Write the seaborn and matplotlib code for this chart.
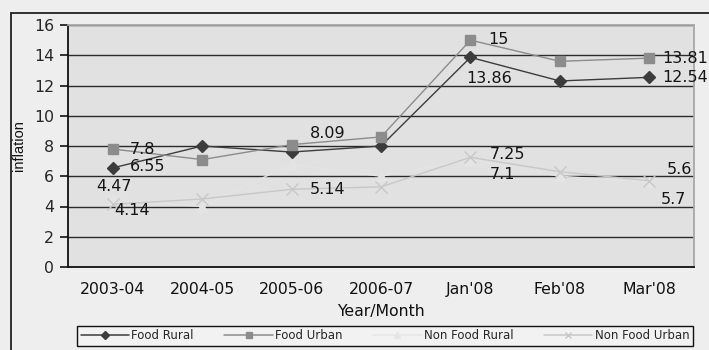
import matplotlib
matplotlib.use("Agg")
import matplotlib.pyplot as plt
from matplotlib.lines import Line2D
import numpy as np
import pandas as pd
import seaborn as sns

periods = ["2003-04", "2004-05", "2005-06", "2006-07", "Jan'08", "Feb'08", "Mar'08"]
food_rural = [6.55, 8.0, 7.6, 8.0, 13.86, 12.3, 12.54]
food_urban = [7.8, 7.1, 8.09, 8.6, 15.0, 13.6, 13.81]
non_food_rural = [4.47, 4.0, 6.8, 6.0, 7.1, 6.0, 5.6]
non_food_urban = [4.14, 4.5, 5.14, 5.3, 7.25, 6.3, 5.7]
series_names = ["Food Rural", "Food Urban", "Non Food Rural", "Non Food Urban"]
series_values = [food_rural, food_urban, non_food_rural, non_food_urban]

# value labels: (period index, value, x offset px, y offset px)
value_labels = [
    (0, 7.8, 17, 0),
    (0, 6.55, 17, 1),
    (0, 4.47, -16, 13),
    (0, 4.14, 2, -6),
    (2, 8.09, 18, 11),
    (2, 5.14, 18, 0),
    (4, 15.0, 18, 1),
    (4, 13.86, -4, -21),
    (6, 13.81, 13, 0),
    (6, 12.54, 13, 0),
    (4, 7.25, 19, 3),
    (4, 7.1, 19, -15),
    (6, 5.6, 17, 13),
    (6, 5.7, 11, -19),
]

colors = {"Food Rural": "#3c3c3c", "Food Urban": "#8c8c8c",
          "Non Food Rural": "#e4e4e4", "Non Food Urban": "#c8c8c8"}
markers = {"Food Rural": "D", "Food Urban": "s",
           "Non Food Rural": "^", "Non Food Urban": "x"}
msizes = {"Food Rural": 6.5, "Food Urban": 7, "Non Food Rural": 7, "Non Food Urban": 8}

sns.set_style("white")
plt.rcParams["font.family"] = ["DejaVu Sans"]

W, H = 709, 350
fig = plt.figure(figsize=(W / 100, H / 100), dpi=100)
fig.patch.set_facecolor("#eeeeee")
ax = fig.add_axes([68 / W, 1 - 267 / H, (694 - 68) / W, (267 - 25) / H])
ax.set_facecolor("#e1e1e1")

x_pos = np.arange(len(periods))
for name, vals in zip(series_names, series_values):
    d = pd.DataFrame({"Year/Month": x_pos, "inflation": vals})
    sns.lineplot(data=d, x="Year/Month", y="inflation", color=colors[name],
                 marker=markers[name], markersize=msizes[name], linewidth=1.0,
                 markeredgecolor=colors[name], markerfacecolor=colors[name],
                 markeredgewidth=1.0, ax=ax, zorder=3)

ax.set_xlim(-0.5, len(periods) - 0.5)
ax.set_ylim(0, 16)
ax.set_yticks(np.arange(0, 17, 2))
ax.set_xticks(x_pos)
ax.set_xticklabels(periods)
ax.set_xticks(np.arange(-0.5, len(periods)), minor=True)
ax.tick_params(axis="x", which="major", length=0, labelsize=11.3, pad=11, colors="#111111")
ax.tick_params(axis="x", which="minor", length=6, width=1.2, color="#111111", direction="out")
ax.tick_params(axis="y", length=6, width=1.2, color="#111111", direction="out",
               labelsize=11.3, pad=4, left=True)
ax.grid(axis="y", color="#2a2a2a", linewidth=1.0)
ax.set_axisbelow(True)
for s in ["left", "bottom"]:
    ax.spines[s].set_color("#111111")
    ax.spines[s].set_linewidth(1.3)
for s in ["top", "right"]:
    ax.spines[s].set_color("#a8a8a8")
    ax.spines[s].set_linewidth(1.3)

ax.set_xlabel("Year/Month", fontsize=11.3, labelpad=5, color="#111111")
ax.set_ylabel("inflation", fontsize=10.5, color="#111111", family="Liberation Sans")
ax.yaxis.set_label_coords(-(68 - 26) / (694 - 68), 0.5)

for i, val, dx, dy in value_labels:
    ax.annotate(f"{val:g}", xy=(i, val), xytext=(dx, dy), textcoords="offset pixels",
                ha="left", va="center", fontsize=11.5, color="#151515",
                annotation_clip=False, zorder=5)

legend_colors = dict(colors, **{"Non Food Rural": "#e6e6e6"})
handles = [Line2D([], [], color=legend_colors[n], marker=markers[n], markersize=4,
                  linewidth=1.1, markerfacecolor=legend_colors[n],
                  markeredgecolor=legend_colors[n])
           for n in series_names]
leg = fig.legend(handles, series_names, loc="lower left", ncol=4, fontsize=8.5,
                 bbox_to_anchor=(77 / W, 1 - 346 / H, (693 - 77) / W, 21 / H),
                 mode="expand", frameon=True, fancybox=False,
                 handlelength=4.1, handletextpad=0.2, columnspacing=0.4,
                 borderpad=0.3, borderaxespad=0, edgecolor="#111111", framealpha=1)
leg.get_frame().set_facecolor("#f2f2f2")
leg.get_frame().set_linewidth(1.0)

# outer frame of the figure panel
fig.add_artist(Line2D([11 / W, 1.0], [1 - 13 / H, 1 - 13 / H], color="#222222", lw=1.3))
fig.add_artist(Line2D([11 / W, 11 / W], [0.0, 1 - 13 / H], color="#222222", lw=1.3))

fig.savefig("out.png", dpi=100, facecolor=fig.get_facecolor())
